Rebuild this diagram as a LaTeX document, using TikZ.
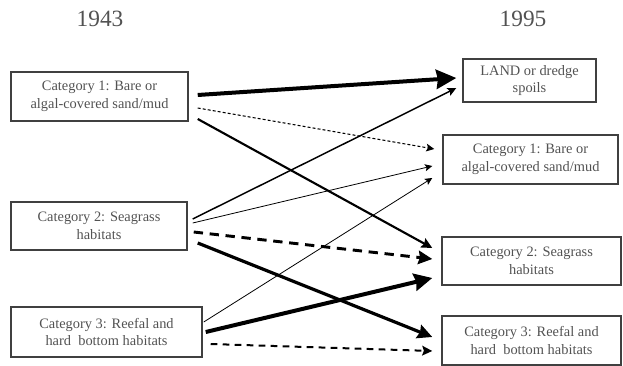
\documentclass[tikz,border=0pt]{standalone}
\usepackage{fontspec}
\setmainfont{Liberation Serif}
\usetikzlibrary{arrows.meta}

\begin{document}
\begin{tikzpicture}[x=0.75pt,y=-0.75pt,
  every node/.style={font=\fontsize{10.8}{13.3}\selectfont,text=black!68},
  catbox/.style={draw=black!75,line width=1.1pt,align=center,inner sep=0pt},
  flow/.style={draw=black,-{Stealth[inset=1.2pt,length=#1*5,width=#1*4.8]}},
  flow/.default=1.5pt]
\useasboundingbox (0,0) rectangle (623,366);
\node[font=\fontsize{17.5}{19}\selectfont] (y1) at (100,19) {1943};
\node[font=\fontsize{17.5}{19}\selectfont] (y2) at (523,19) {1995};
\node[catbox,minimum width=132.75pt,minimum height=36.75pt] (a1) at (99.5,96.5) {Category 1: Bare or\\algal-covered sand/mud};
\node[catbox,minimum width=132pt,minimum height=36pt] (a2) at (99,226) {Category 2: Seagrass\\habitats};
\node[catbox,minimum width=143.25pt,minimum height=37.5pt] (a3) at (106.5,332) {Category 3: Reefal and\\hard\ \ bottom habitats};
\node[catbox,minimum width=99.75pt,minimum height=32.25pt] (b0) at (529.5,80.5) {LAND or dredge\\spoils};
\node[catbox,minimum width=131.25pt,minimum height=36.75pt] (b1) at (530.5,159.5) {Category 1: Bare or\\algal-covered sand/mud};
\node[catbox,minimum width=134.25pt,minimum height=36pt] (b2) at (531.5,261) {Category 2: Seagrass\\habitats};
\node[catbox,minimum width=134.25pt,minimum height=36.75pt] (b3) at (531.5,340.5) {Category 3: Reefal and\\hard\ \ bottom habitats};
% from category 1
\draw[flow=3pt,line width=3pt] ([shift={(9,-1.5)}]a1.east) -- ([shift={(-6,-2.5)}]b0.west);
\draw[flow=1.2pt,line width=0.8pt,dash pattern=on 2.2pt off 1.6pt] ([shift={(9,11.5)}]a1.east) -- ([shift={(-8,-10.5)}]b1.west);
\draw[flow=1.6pt,line width=1.6pt] ([shift={(9,22.5)}]a1.east) -- ([shift={(-9,-13)}]b2.west);
% from category 2
\draw[flow=1.3pt,line width=1.1pt] ([shift={(5,-7)}]a2.east) -- ([shift={(-6,7.5)}]b0.west);
\draw[flow=1.1pt,line width=0.6pt] ([shift={(5,-3)}]a2.east) -- ([shift={(-10,6.5)}]b1.west);
\draw[flow=2.1pt,line width=2.2pt,dash pattern=on 7pt off 5pt] ([shift={(6,6)}]a2.east) -- ([shift={(-9,-2)}]b2.west);
\draw[flow=2.2pt,line width=2.4pt] ([shift={(10,17)}]a2.east) -- ([shift={(-9,-3.5)}]b3.west);
% from category 3
\draw[flow=1.1pt,line width=0.6pt] ([shift={(1,-10)}]a3.east) -- ([shift={(-10,18.5)}]b1.west);
\draw[flow=2.7pt,line width=3pt] ([shift={(3,0)}]a3.east) -- ([shift={(-9,17)}]b2.west);
\draw[flow=1.5pt,line width=1.5pt,dash pattern=on 5pt off 4pt] ([shift={(8,12)}]a3.east) -- ([shift={(-9,10.5)}]b3.west);
\end{tikzpicture}
\end{document}
